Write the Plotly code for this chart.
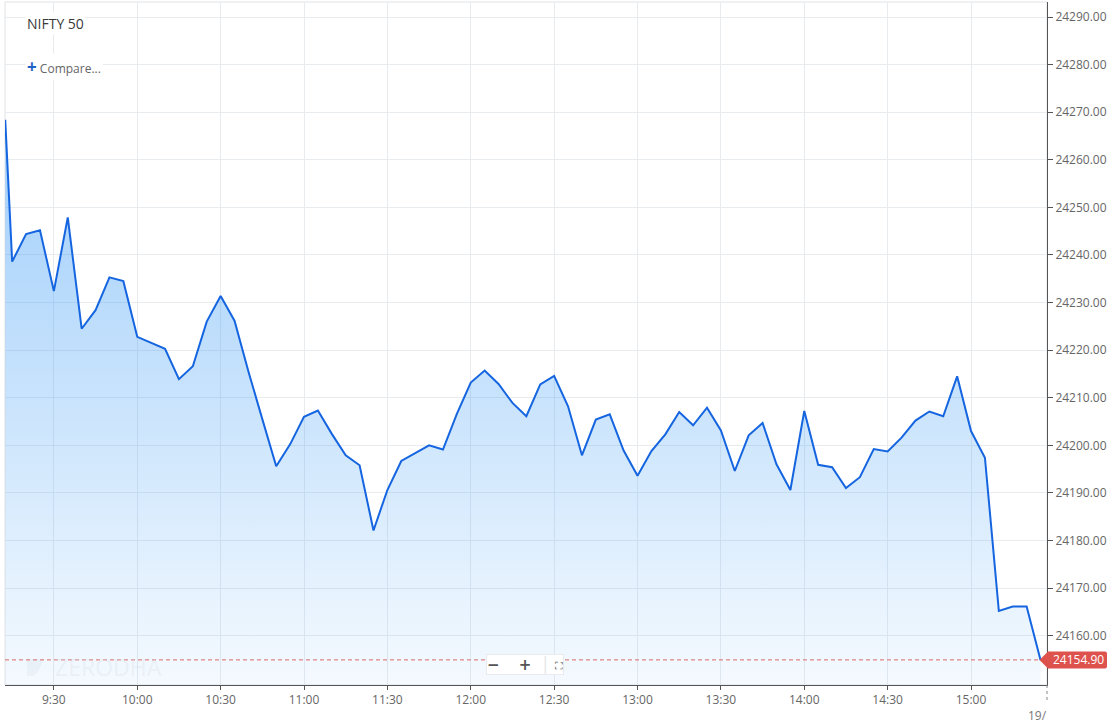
import plotly.graph_objects as go
import pandas as pd

# ---- data ----
open_time = "2024-12-19 09:12:30"
open_value = 24268.4
times_5min = pd.date_range("2024-12-19 09:15", "2024-12-19 15:25", freq="5min")
values_5min = [
    24238.6, 24244.4, 24245.2, 24232.4, 24247.9, 24224.5, 24228.4, 24235.3, 24234.5,
    24222.8, 24221.6, 24220.3, 24213.9, 24216.6, 24226.0, 24231.4, 24226.2, 24215.5,
    24205.5, 24195.6, 24200.2,
    24206.0, 24207.3, 24202.4, 24197.9, 24195.8, 24182.1, 24190.6, 24196.7, 24198.3,
    24200.0, 24199.1, 24206.6,
    24213.2, 24215.7, 24212.9, 24208.9, 24206.1, 24212.8, 24214.6, 24208.2, 24197.9,
    24205.4, 24206.5, 24198.9,
    24193.6, 24198.8, 24202.3, 24207.0, 24204.2, 24207.9, 24203.1, 24194.6, 24202.1,
    24204.7, 24196.0, 24190.6,
    24207.2, 24195.9, 24195.4, 24191.0, 24193.3, 24199.2, 24198.7, 24201.6, 24205.2,
    24207.1, 24206.1, 24214.5,
    24203.0, 24197.4, 24165.2, 24166.1, 24166.1, 24154.9,
]
times = [pd.Timestamp(open_time)] + list(times_5min)
values = [open_value] + values_5min
last_value = values[-1]

y_tick_values = [24160, 24170, 24180, 24190, 24200, 24210, 24220, 24230,
                 24240, 24250, 24260, 24270, 24280, 24290]
x_range = ["2024-12-19 09:12:25", "2024-12-19 15:27:20"]
y_range = [24149.62, 24293.17]

title_text = "NIFTY 50"
date_label = "19/"

FONT = "Open Sans"
GRID = "#e9ecef"
LINE_BLUE = "#1565e0"
RED = "#de524d"

fig = go.Figure()
fig.add_trace(go.Scatter(
    x=times, y=values, mode="lines",
    line=dict(color=LINE_BLUE, width=2),
    fill="tozeroy",
    fillgradient=dict(
        type="vertical",
        colorscale=[[0, "rgba(40,145,245,0.05)"], [1, "rgba(40,145,245,0.42)"]],
        start=y_range[0], stop=24260,
    ),
    hoverinfo="x+y", showlegend=False,
))

shapes = [
    # light frame
    dict(type="rect", xref="paper", yref="paper", x0=0, x1=1, y0=0, y1=1,
         line=dict(color="#dfe2e5", width=1), layer="below"),
    # last price dashed line
    dict(type="line", xref="paper", yref="y", x0=0, x1=1, y0=last_value, y1=last_value,
         line=dict(color="rgba(214,82,78,0.85)", width=1, dash="4px,3px")),
    # last price tag (arrow + box)
    dict(type="path", xref="paper", yref="y", xsizemode="pixel", ysizemode="pixel",
         xanchor=1, yanchor=last_value,
         path="M -7.5,0 L 1,-8.5 L 58,-8.5 Q 60,-8.5 60,-6.5 L 60,6.5 Q 60,8.5 58,8.5 L 1,8.5 Z",
         fillcolor=RED, line=dict(width=0)),
    # dotted tick at the right end of the time axis
    dict(type="line", xref="paper", yref="paper", x0=1, x1=1, y0=0, y1=-0.024,
         line=dict(color="#888", width=1, dash="dot")),
    # watermark logo
    dict(type="path", xref="paper", yref="paper", xsizemode="pixel", ysizemode="pixel",
         xanchor=0, yanchor=0,
         path="M 22,9 L 22,26 L 39,26 L 33,13 L 28,9 Z",
         fillcolor="rgba(215,220,225,0.22)", line=dict(width=0), layer="below"),
]

annotations = [
    dict(text=title_text, xref="paper", yref="paper", x=20 / 1042, y=1 - 22 / 683,
         xanchor="left", yanchor="middle", showarrow=False,
         font=dict(family=FONT, size=14, color="#3a3a3a"), bgcolor="white"),
    dict(text="<b><span style='color:#1d62c6;font-size:17px'>+</span></b> Compare...",
         xref="paper", yref="paper", x=20 / 1042, y=1 - 64 / 683,
         xanchor="left", yanchor="middle", showarrow=False,
         font=dict(family=FONT, size=12, color="#666"), bgcolor="white"),
    dict(text=f"{last_value:.2f}", xref="paper", yref="y", x=1, y=last_value,
         xanchor="left", yanchor="middle", xshift=4, showarrow=False,
         font=dict(family=FONT, size=12, color="white")),
    dict(text=date_label, xref="paper", yref="paper", x=1, y=-0.03,
         xanchor="right", yanchor="top", showarrow=False, xshift=2,
         font=dict(family=FONT, size=12, color="#777")),
    dict(text="ZERODHA", xref="paper", yref="paper", x=48 / 1042, y=(685 - 667) / 683,
         xanchor="left", yanchor="middle", showarrow=False,
         font=dict(family=FONT, size=23, color="rgba(215,220,225,0.3)")),
    dict(text="<b>−</b>    <b>+</b>  <span style='color:#e3e6e9'>│</span> <span style='font-size:11px'>⛶</span>",
         xref="paper", yref="paper",
         x=(525 - 5) / 1042, y=(685 - 664) / 683, xanchor="center", yanchor="middle",
         showarrow=False, font=dict(family="DejaVu Sans", size=15, color="#555"),
         bgcolor="white", bordercolor="#e8eaed", borderwidth=1, borderpad=0),
]

fig.update_layout(
    width=1110, height=725,
    margin=dict(l=5, r=63, t=2, b=40),
    paper_bgcolor="white", plot_bgcolor="white",
    font=dict(family=FONT, size=12, color="#666"),
    shapes=shapes, annotations=annotations,
    showlegend=False,
    xaxis=dict(
        type="date", range=x_range,
        tick0="2024-12-19 09:30", dtick=30 * 60 * 1000, tickformat="%-H:%M",
        showgrid=True, gridcolor=GRID, gridwidth=1,
        showline=True, linecolor="#555", linewidth=1,
        ticks="outside", ticklen=4, tickcolor="#555",
        tickfont=dict(family=FONT, size=12, color="#666"),
        zeroline=False, fixedrange=True,
    ),
    yaxis=dict(
        side="right", range=y_range,
        tickvals=y_tick_values, tickformat=".2f",
        showgrid=True, gridcolor=GRID, gridwidth=1,
        showline=True, linecolor="#555", linewidth=1,
        ticks="outside", ticklen=5, tickcolor="#555",
        tickfont=dict(family=FONT, size=12, color="#666"),
        zeroline=False, fixedrange=True,
    ),
)

fig.write_html(
    "out.html",
    config={"displayModeBar": False},
    post_script="document.body.style.margin='0';document.body.style.overflow='hidden';",
)
